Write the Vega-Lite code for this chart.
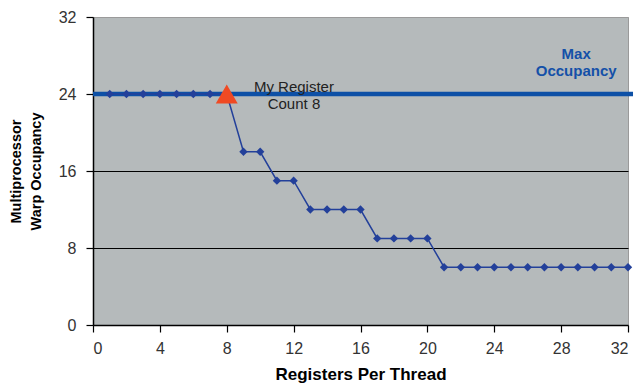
{
  "$schema": "https://vega.github.io/schema/vega-lite/v6.json",
  "width": 535,
  "height": 308,
  "autosize": "none",
  "padding": {"left": 93, "top": 17, "right": 11, "bottom": 58},
  "background": "white",
  "config": {
    "font": "Liberation Sans",
    "view": {"fill": "#b5babb", "stroke": "#9a9a9a", "strokeWidth": 1}
  },
  "datasets": {
    "occ": [
      {"reg": 1, "warps": 24}, {"reg": 2, "warps": 24}, {"reg": 3, "warps": 24}, {"reg": 4, "warps": 24},
      {"reg": 5, "warps": 24}, {"reg": 6, "warps": 24}, {"reg": 7, "warps": 24}, {"reg": 8, "warps": 24},
      {"reg": 9, "warps": 18}, {"reg": 10, "warps": 18}, {"reg": 11, "warps": 15}, {"reg": 12, "warps": 15},
      {"reg": 13, "warps": 12}, {"reg": 14, "warps": 12}, {"reg": 15, "warps": 12}, {"reg": 16, "warps": 12},
      {"reg": 17, "warps": 9}, {"reg": 18, "warps": 9}, {"reg": 19, "warps": 9}, {"reg": 20, "warps": 9},
      {"reg": 21, "warps": 6}, {"reg": 22, "warps": 6}, {"reg": 23, "warps": 6}, {"reg": 24, "warps": 6},
      {"reg": 25, "warps": 6}, {"reg": 26, "warps": 6}, {"reg": 27, "warps": 6}, {"reg": 28, "warps": 6},
      {"reg": 29, "warps": 6}, {"reg": 30, "warps": 6}, {"reg": 31, "warps": 6}, {"reg": 32, "warps": 6}
    ]
  },
  "encoding": {
    "x": {"field": "reg", "type": "quantitative", "scale": {"domain": [0, 32], "nice": false, "zero": false},
      "axis": {"values": [0, 4, 8, 12, 16, 20, 24, 28, 32], "grid": false, "domainColor": "#000", "domainWidth": 1.5, "tickColor": "#000", "tickSize": 7, "tickWidth": 1.2,
        "labelFontSize": 16, "labelColor": "#333", "labelPadding": 8, "title": "Registers Per Thread", "titleFontSize": 17, "titleFontWeight": "bold", "titleColor": "#000", "titlePadding": 10}},
    "y": {"field": "warps", "type": "quantitative", "scale": {"domain": [0, 32], "nice": false, "zero": false},
      "axis": {"values": [0, 8, 16, 24, 32], "grid": true,
        "gridColor": {"condition": {"test": "datum.value == 32 || datum.value == 0", "value": "#9a9a9a"}, "value": "#000"},
        "gridWidth": 1, "domainColor": "#000", "domainWidth": 1.5, "tickColor": "#000", "tickSize": 7, "tickWidth": 1.2,
        "labelFontSize": 16, "labelColor": "#333", "labelPadding": 10,
        "title": ["Multiprocessor", "Warp Occupancy"], "titleFontSize": 14.5, "titleFontWeight": "bold", "titleColor": "#000", "titlePadding": 15, "titleLineHeight": 20}}
  },
  "layer": [
    {
      "data": {"values": [{"reg": 0, "reg2": 32.3, "warps": 24}]},
      "mark": {"type": "rule", "color": "#0d50a6", "strokeWidth": 4.5, "clip": false},
      "encoding": {
        "x2": {"field": "reg2"}
      }
    },
    {
      "data": {"name": "occ"},
      "mark": {"type": "line", "color": "#23409a", "strokeWidth": 1.5, "point": {"shape": "diamond", "size": 70, "filled": true, "color": "#23409a", "opacity": 1}}
    },
    {
      "data": {"values": [{"reg": 8, "warps": 24}]},
      "mark": {"type": "point", "shape": "triangle-up", "size": 480, "filled": true, "color": "#f04a23", "opacity": 1}
    },
    {
      "data": {"values": [{"reg": 12.02, "warps": 24.7, "label": "My Register\nCount 8"}]},
      "mark": {"type": "text", "fontSize": 15, "color": "#222", "align": "center", "baseline": "middle", "lineBreak": "\n", "lineHeight": 17},
      "encoding": {
        "text": {"field": "label"}
      }
    },
    {
      "data": {"values": [{"reg": 28.9, "warps": 28.15, "label": "Max\nOccupancy"}]},
      "mark": {"type": "text", "fontSize": 15, "fontWeight": "bold", "color": "#1450a8", "align": "center", "baseline": "middle", "lineBreak": "\n", "lineHeight": 17},
      "encoding": {
        "text": {"field": "label"}
      }
    }
  ]
}
